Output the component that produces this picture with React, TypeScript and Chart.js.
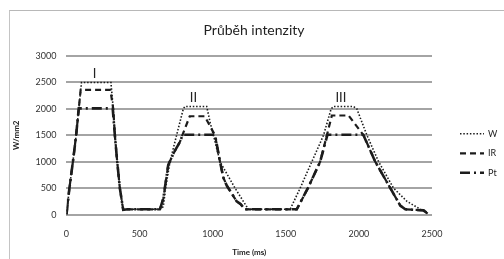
import React, { useEffect, useRef } from "react";
import { Chart, registerables } from "chart.js";

Chart.register(...registerables);

const TITLE = "Průběh intenzity";
const X_TITLE = "Time (ms)";
const Y_TITLE = "W/mm2";
const SERIES_NAMES = ["W", "IR", "Pt"];

const wTime = [0, 20, 44, 66, 84, 103, 304, 320, 331, 347, 365, 388, 420, 639, 662, 678, 708, 753, 799, 810, 959, 982, 1005, 1050, 1153, 1244, 1300, 1530, 1598, 1678, 1758, 1810, 1827, 1963, 1986, 2055, 2135, 2237, 2329, 2477];
const wValues = [0, 500, 1000, 1500, 2000, 2500, 2500, 2000, 1500, 1000, 500, 90, 100, 100, 150, 500, 1000, 1500, 2000, 2045, 2045, 1750, 1500, 1000, 500, 100, 100, 100, 500, 1000, 1500, 2000, 2045, 2045, 2000, 1500, 1000, 500, 250, 10];

const irTime = [0, 20, 44, 66, 84, 97, 300, 320, 331, 347, 365, 388, 420, 639, 662, 696, 740, 776, 792, 843, 945, 1016, 1050, 1073, 1096, 1164, 1190, 1221, 1300, 1575, 1632, 1651, 1735, 1781, 1815, 1929, 2032, 2112, 2215, 2283, 2317, 2443, 2470];
const irValues = [0, 500, 1000, 1500, 2000, 2360, 2360, 2000, 1500, 1000, 500, 90, 100, 100, 300, 940, 1200, 1375, 1500, 1860, 1860, 1500, 1000, 700, 550, 250, 200, 100, 100, 100, 400, 500, 1000, 1500, 1875, 1875, 1500, 1000, 500, 170, 100, 80, 20];

const ptTime = [0, 20, 44, 66, 84, 316, 331, 347, 365, 388, 420, 639, 662, 696, 740, 776, 795, 1016, 1050, 1073, 1096, 1164, 1190, 1221, 1300, 1575, 1632, 1651, 1735, 1785, 2030, 2112, 2215, 2283, 2317, 2443, 2470];
const ptValues = [0, 500, 1000, 1500, 2010, 2010, 1500, 1000, 500, 90, 100, 100, 300, 940, 1200, 1375, 1510, 1510, 1000, 700, 550, 250, 200, 100, 100, 100, 400, 500, 1000, 1510, 1510, 1000, 500, 170, 100, 80, 20];

const peakLabels = ["I", "II", "III"];
const peakTimes = [192, 868, 1877];
const peakLabelValues = [2670, 2217, 2204];

const X_TICKS = [0, 500, 1000, 1500, 2000, 2500];
const Y_TICKS = [0, 500, 1000, 1500, 2000, 2500, 3000];

const FONT = "Lato, 'Open Sans', sans-serif";
const LINE_COLOR = "#1c1c1c";
const STYLES = [
  { width: 1.6, dash: [1.5, 1.8] },
  { width: 2.2, dash: [6, 4] },
  { width: 2.6, dash: [10, 4, 2, 4] },
];

function toPoints(t: number[], v: number[]) {
  return t.map((x, i) => ({ x, y: v[i] }));
}

const peakLabelPlugin = {
  id: "peakLabels",
  afterDatasetsDraw(chart: any) {
    const { ctx, scales } = chart;
    ctx.save();
    ctx.fillStyle = "#222";
    ctx.font = `13px ${FONT}`;
    ctx.textAlign = "center";
    ctx.textBaseline = "middle";
    peakLabels.forEach((lab, i) => {
      ctx.fillText(lab, scales.x.getPixelForValue(peakTimes[i]), scales.y.getPixelForValue(peakLabelValues[i]));
    });
    ctx.restore();
  },
};

const titlePlugin = {
  id: "centeredTitle",
  afterDraw(chart: any) {
    const { ctx, width } = chart;
    ctx.save();
    ctx.fillStyle = "#222";
    ctx.font = `14px ${FONT}`;
    ctx.textAlign = "center";
    ctx.textBaseline = "middle";
    ctx.fillText(TITLE, width / 2 + 2, 30);
    ctx.restore();
  },
};

const legendPlugin = {
  id: "dashLegend",
  afterDraw(chart: any) {
    const { ctx, chartArea } = chart;
    const x0 = chartArea.right + 28;
    const midY = (chartArea.top + chartArea.bottom) / 2;
    const step = 19.5;
    ctx.save();
    SERIES_NAMES.forEach((name, i) => {
      const y = midY + (i - 1) * step + 18;
      const st = STYLES[i];
      ctx.strokeStyle = LINE_COLOR;
      ctx.lineWidth = st.width;
      ctx.setLineDash(st.dash);
      ctx.beginPath();
      ctx.moveTo(x0, y);
      ctx.lineTo(x0 + 24, y);
      ctx.stroke();
      ctx.setLineDash([]);
      ctx.fillStyle = "#222";
      ctx.font = `9px ${FONT}`;
      ctx.textAlign = "left";
      ctx.textBaseline = "middle";
      ctx.fillText(name, x0 + 28, y);
    });
    ctx.restore();
  },
};

export default function App() {
  const ref = useRef<HTMLCanvasElement | null>(null);
  useEffect(() => {
    if (!ref.current) return;
    const mk = (i: number, t: number[], v: number[]) => ({
      label: SERIES_NAMES[i],
      data: toPoints(t, v),
      borderColor: LINE_COLOR,
      backgroundColor: LINE_COLOR,
      borderWidth: STYLES[i].width,
      borderDash: STYLES[i].dash,
      pointRadius: 0,
      tension: 0,
    });
    const chart = new Chart(ref.current, {
      type: "line",
      data: {
        datasets: [mk(0, wTime, wValues), mk(1, irTime, irValues), mk(2, ptTime, ptValues)],
      },
      options: {
        animation: false,
        responsive: false,
        maintainAspectRatio: false,
        layout: { padding: { left: 12, right: 72, top: 56, bottom: 2 } },
        plugins: {
          title: { display: false },
          legend: { display: false },
          tooltip: { enabled: false },
        },
        scales: {
          x: {
            type: "linear",
            min: 0,
            max: 2500,
            afterBuildTicks: (axis: any) => {
              axis.ticks = X_TICKS.map((v) => ({ value: v }));
            },
            grid: { display: false },
            border: { display: false },
            ticks: { color: "#333", font: { family: FONT, size: 9 }, padding: 6, callback: (v: any) => String(v) },
            title: {
              display: true,
              text: X_TITLE,
              color: "#222",
              font: { family: FONT, size: 8, weight: "bold" },
              padding: { top: 2, bottom: 0 },
            },
          },
          y: {
            min: 0,
            max: 3000,
            afterBuildTicks: (axis: any) => {
              axis.ticks = Y_TICKS.map((v) => ({ value: v }));
            },
            grid: { color: "#a4a4a4", lineWidth: 2, drawTicks: false },
            border: { display: false },
            ticks: { color: "#333", font: { family: FONT, size: 9 }, padding: 10, callback: (v: any) => String(v) },
            title: {
              display: true,
              text: Y_TITLE,
              color: "#222",
              font: { family: FONT, size: 8, weight: "bold" },
              padding: { top: 0, bottom: 4 },
            },
          },
        },
      },
      plugins: [peakLabelPlugin, legendPlugin, titlePlugin],
    });
    return () => chart.destroy();
  }, []);

  return (
    <div style={{ position: "fixed", left: 0, top: 0, width: 504, height: 259, background: "#fff", overflow: "hidden" }}>
      <div
        style={{
          position: "absolute",
          left: 9,
          top: 10,
          width: 520,
          height: 270,
          borderTop: "1px solid #b8b8b8",
          borderLeft: "1px solid #c4c4c4",
        }}
      />
      <canvas ref={ref} width={504} height={259} style={{ position: "absolute", left: 0, top: 0 }} />
    </div>
  );
}
